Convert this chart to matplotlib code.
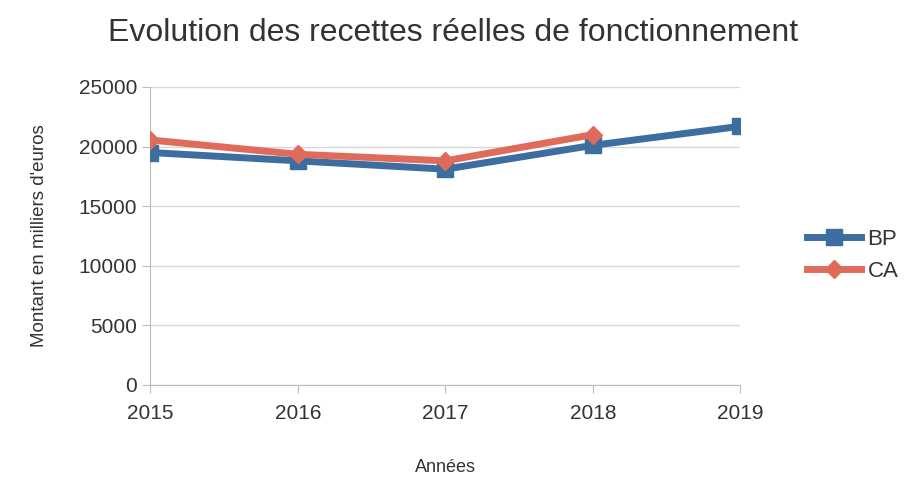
import matplotlib.pyplot as plt
import numpy as np

years = ['2015', '2016', '2017', '2018', '2019']
bp = [19500, 18800, 18100, 20100, 21700]
ca = [20550, 19350, 18800, 21000]

blue = '#3d6e9f'
red = '#e06b5b'


def main():
    plt.rcParams['font.family'] = ['Liberation Sans', 'DejaVu Sans']
    fig = plt.figure(figsize=(9.06, 4.78), dpi=100)
    ax = fig.add_axes([0.166, 0.195, 0.651, 0.623])

    x = np.arange(len(years))
    ax.plot(x, bp, color=blue, lw=5, marker='s', ms=12, label='BP', zorder=3)
    ax.plot(x[:len(ca)], ca, color=red, lw=5, marker='D', ms=9, label='CA', zorder=4)

    ax.set_xlim(0, len(years) - 1)
    ax.set_ylim(0, 25000)
    ax.set_xticks(x)
    ax.set_xticklabels(years)
    ax.set_yticks(range(0, 25001, 5000))
    ax.tick_params(axis='both', labelsize=15, colors='#333333', length=6, color='#bbbbbb')
    ax.tick_params(axis='x', pad=8)
    ax.grid(axis='y', color='#d8d8d8', lw=1)
    for s in ['top', 'right']:
        ax.spines[s].set_visible(False)
    for s in ['left', 'bottom']:
        ax.spines[s].set_color('#bbbbbb')

    ax.set_xlabel('Années', fontsize=13, color='#333333', labelpad=26)
    ax.set_ylabel("Montant en milliers d'euros", fontsize=13.5, color='#333333', labelpad=22)
    fig.text(0.5, 0.93, 'Evolution des recettes réelles de fonctionnement',
             ha='center', va='center', fontsize=23, color='#333333')

    leg = ax.legend(loc='center left', bbox_to_anchor=(1.08, 0.435), frameon=False,
                    fontsize=16, handlelength=2.4, labelspacing=0.5, handletextpad=0.3)
    for t in leg.get_texts():
        t.set_color('#333333')

    fig.savefig('out.png', dpi=100)


if __name__ == '__main__':
    main()
